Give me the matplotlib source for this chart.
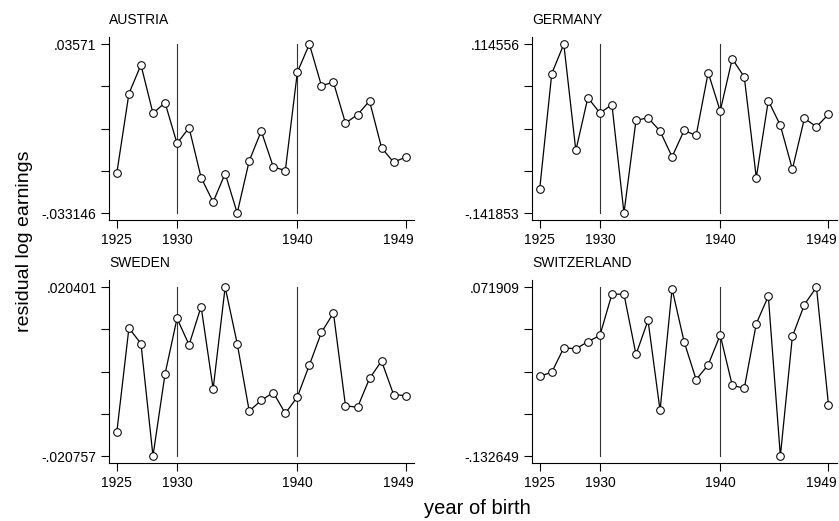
import numpy as np
import matplotlib
matplotlib.use("Agg")
import matplotlib.pyplot as plt
from matplotlib.transforms import ScaledTranslation

plt.rcParams['font.family'] = ['Liberation Sans', 'DejaVu Sans']

# Daten
years = list(range(1925, 1950))
xticks = [1925, 1930, 1940, 1949]
vlines = [1930, 1940]

austria = [-0.01665, 0.01553, 0.02726, 0.00749, 0.01185, -0.00478, 0.00162, -0.01869,
           -0.02865, -0.01706, -0.033146, -0.01188, 0.00026, -0.01433, -0.01583, 0.02426,
           0.03571, 0.01880, 0.02017, 0.00353, 0.00694, 0.01253, -0.00656, -0.01242, -0.01038]
germany = [-0.10478, 0.06988, 0.114556, -0.04690, 0.03332, 0.00997, 0.02266, -0.141853,
           -0.00121, 0.00285, -0.01746, -0.05655, -0.01644, -0.02406, 0.07140, 0.01301,
           0.09222, 0.06480, -0.08803, 0.02875, -0.00882, -0.07534, 0.00184, -0.01085, 0.00794]
sweden = [-0.01479, 0.01042, 0.00665, -0.020757, -0.00079, 0.01279, 0.00633, 0.01565,
          -0.00439, 0.020401, 0.00665, -0.00980, -0.00718, -0.00529, -0.01037, -0.00636,
          0.00142, 0.00935, 0.01410, -0.00849, -0.00890, -0.00186, 0.00240, -0.00579, -0.00603]
switzerland = [-0.03605, -0.03118, -0.00155, -0.00277, 0.00575, 0.01346, 0.06339, 0.06339,
               -0.00967, 0.03173, -0.07745, 0.06988, 0.00575, -0.04011, -0.02225, 0.01387,
               -0.04701, -0.05066, 0.02767, 0.06095, -0.132649, 0.01225, 0.05080, 0.071909, -0.07055]

paneles = [
    ("AUSTRIA", austria, ".03571", "-.033146"),
    ("GERMANY", germany, ".114556", "-.141853"),
    ("SWEDEN", sweden, ".020401", "-.020757"),
    ("SWITZERLAND", switzerland, ".071909", "-.132649"),
]

fig = plt.figure(figsize=(8.39, 5.21), dpi=100)

# posiciones de los ejes (fraccion de la figura)
lefts = [0.130, 0.634]
bottoms = [0.5777, 0.1113]
w, h = 0.3635, 0.351

for i, (nombre, vals, top_lbl, bot_lbl) in enumerate(paneles):
    ax = fig.add_axes([lefts[i % 2], bottoms[i // 2], w, h])
    vmin, vmax = min(vals), max(vals)
    rng = vmax - vmin
    m = rng * 7 / 169

    for v in vlines:
        ax.plot([v, v], [vmin, vmax], color='#333333', lw=0.8, zorder=1)
    ax.plot(years, vals, color='black', lw=0.9, marker='o', markersize=5.5,
            mfc='white', mec='black', mew=0.75, zorder=2)

    ax.set_xlim(1924.35, 1949.7)
    ax.set_ylim(vmin - m, vmax + m)
    ax.set_xticks(xticks)
    ax.set_xticklabels([str(x) for x in xticks])
    yt = np.linspace(vmin, vmax, 5)
    ax.set_yticks(yt)
    ax.set_yticklabels([bot_lbl, "", "", "", top_lbl])

    for s in ['top', 'right']:
        ax.spines[s].set_visible(False)
    for s in ['left', 'bottom']:
        ax.spines[s].set_linewidth(0.8)
    ax.tick_params(direction='out', length=6, width=0.8, labelsize=10, pad=3)

    # la ultima etiqueta (1949) corrida a la izquierda como en el original
    ultima = ax.get_xticklabels()[-1]
    ultima.set_transform(ultima.get_transform() + ScaledTranslation(-7 / 100, 0, fig.dpi_scale_trans))

    ax.text(0.0, 1.071, nombre, transform=ax.transAxes, fontsize=10,
            ha='left', va='baseline')

fig.text(0.029, 0.537, "residual log earnings", rotation=90, ha='center', va='center', fontsize=14)
fig.text(0.569, 0.024, "year of birth", ha='center', va='center', fontsize=14.5)

fig.savefig("out.png", dpi=100)
